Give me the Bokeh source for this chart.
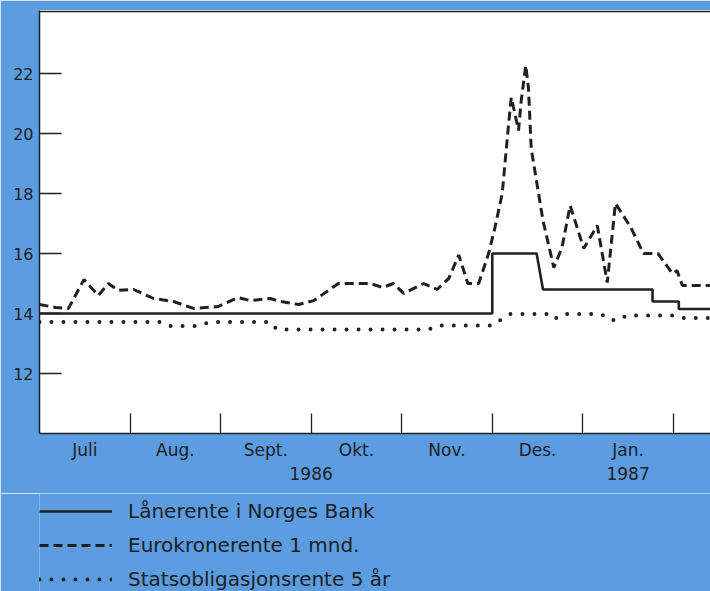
from bokeh.plotting import figure
from bokeh.models import FixedTicker, Range1d, Span, Legend, LegendItem
from bokeh.layouts import column
from bokeh.embed import file_html
from bokeh.resources import INLINE

# x = months since 1 July 1986
month_ticks = [0.5, 1.5, 2.5, 3.0, 3.5, 4.5, 5.5, 6.5]
month_labels = ["Juli", "Aug.", "Sept.", "\n1986", "Okt.", "Nov.", "Des.", "Jan.\n1987"]
month_bounds = [1, 2, 3, 4, 5, 6, 7]
y_ticks = [12, 14, 16, 18, 20, 22]

laan_x = [0.0, 5.0, 5.0, 5.49, 5.56, 6.77, 6.77, 7.06, 7.06, 7.45]
laan_y = [14.0, 14.0, 16.0, 16.0, 14.8, 14.8, 14.4, 14.4, 14.15, 14.15]

euro_x = [0.0, 0.18, 0.32, 0.49, 0.65, 0.76, 0.87, 1.04, 1.26, 1.48,
          1.70, 1.97, 2.19, 2.33, 2.55, 2.66, 2.86, 3.03, 3.30, 3.65,
          3.79, 3.91, 4.02, 4.24, 4.39, 4.52, 4.63, 4.73, 4.85, 4.96,
          5.03, 5.11, 5.18, 5.21, 5.24, 5.29, 5.32, 5.37, 5.40, 5.43,
          5.56, 5.68, 5.77, 5.86, 6.01, 6.16, 6.27, 6.36, 6.53, 6.67,
          6.83, 6.99, 7.04, 7.10, 7.45]
euro_y = [14.3, 14.2, 14.17, 15.13, 14.6, 15.0, 14.77, 14.8, 14.5, 14.4,
          14.17, 14.23, 14.53, 14.43, 14.5, 14.4, 14.3, 14.43, 15.0, 15.0,
          14.87, 15.0, 14.67, 15.0, 14.8, 15.17, 15.95, 15.0, 15.0, 16.0,
          16.87, 18.0, 20.3, 21.2, 20.8, 20.1, 21.1, 22.27, 21.5, 19.5,
          17.1, 15.53, 16.2, 17.6, 16.17, 16.93, 15.03, 17.67, 16.87, 16.0,
          16.0, 15.33, 15.43, 14.93, 14.93]

stat_x = [0.0, 1.35, 1.45, 1.72, 1.90, 2.55, 2.62, 4.30, 4.40, 5.00, 5.10,
          5.20, 5.60, 5.68, 5.78, 6.20, 6.30, 6.40, 6.48, 7.00, 7.10, 7.45]
stat_y = [13.72, 13.72, 13.58, 13.58, 13.72, 13.72, 13.47, 13.47, 13.6, 13.6, 13.8,
          13.98, 13.98, 13.8, 13.98, 13.98, 13.78, 13.78, 13.93, 13.93, 13.85, 13.85]

labels = ["Lånerente i Norges Bank", "Eurokronerente 1 mnd.", "Statsobligasjonsrente 5 år"]

BLUE = "#5c9de2"
INK = "#202020"
FONT = "DejaVu Sans"

SOLID = dict(line_color=INK, line_width=2.6)
DASHED = dict(line_color=INK, line_width=3, line_dash="9 5")
DOTTED = dict(line_color=INK, line_width=4, line_dash="0 12", line_cap="round")

p = figure(frame_width=671, frame_height=423, output_backend="svg", toolbar_location=None,
           x_range=Range1d(0, 7.41), y_range=Range1d(10.0, 24.1),
           min_border_left=39, min_border_right=0, min_border_top=10, min_border_bottom=60,
           background_fill_color="white", border_fill_color=BLUE)
p.outline_line_color = None
p.grid.visible = False

p.line(laan_x, laan_y, **SOLID)
p.line(euro_x, euro_y, **DASHED)
p.line(stat_x, stat_y, **DOTTED)

p.add_layout(Span(location=24.07, dimension="width", line_color=INK, line_width=1.5))

xa = p.xaxis[0]
xa.ticker = FixedTicker(ticks=month_ticks, minor_ticks=month_bounds)
xa.major_label_overrides = {t: l for t, l in zip(month_ticks, month_labels)}
xa.major_tick_in = 0
xa.major_tick_out = 0
xa.minor_tick_in = 20
xa.minor_tick_out = 0
xa.minor_tick_line_color = INK
xa.minor_tick_line_width = 1.3
xa.axis_line_color = INK
xa.axis_line_width = 1.5
xa.major_label_standoff = 6
xa.major_label_text_font = FONT
xa.major_label_text_font_size = "17px"
xa.major_label_text_color = INK

ya = p.yaxis[0]
ya.ticker = FixedTicker(ticks=y_ticks)
ya.major_tick_in = 22
ya.major_tick_out = 0
ya.major_tick_line_color = INK
ya.major_tick_line_width = 1.3
ya.minor_tick_line_color = None
ya.axis_line_color = INK
ya.axis_line_width = 1.5
ya.major_label_standoff = 6
ya.major_label_text_font = FONT
ya.major_label_text_font_size = "16px"
ya.major_label_text_color = INK

# legend strip below the chart (its sample lines lie outside its visible range)
q = figure(width=710, height=98, output_backend="svg", toolbar_location=None,
           x_range=Range1d(0, 1), y_range=Range1d(0, 1),
           min_border=0, background_fill_color=BLUE, border_fill_color=BLUE)
q.outline_line_color = None
q.axis.visible = False
q.grid.visible = False
g1 = q.line([-5, -4], [-5, -4], **SOLID)
g2 = q.line([-5, -4], [-5, -4], **DASHED)
g3 = q.line([-5, -4], [-5, -4], **DOTTED)

legend = Legend(items=[LegendItem(label=labels[0], renderers=[g1]),
                       LegendItem(label=labels[1], renderers=[g2]),
                       LegendItem(label=labels[2], renderers=[g3])],
                location=(0, 0), orientation="vertical",
                glyph_width=73, glyph_height=24, label_standoff=16, spacing=10,
                padding=0, margin=0, background_fill_alpha=0, border_line_alpha=0,
                label_text_font=FONT, label_text_font_size="20px", label_text_color=INK)
q.add_layout(legend, "center")

layout = column(p, q, spacing=0)
open("out.html", "w").write(file_html(layout, INLINE))
